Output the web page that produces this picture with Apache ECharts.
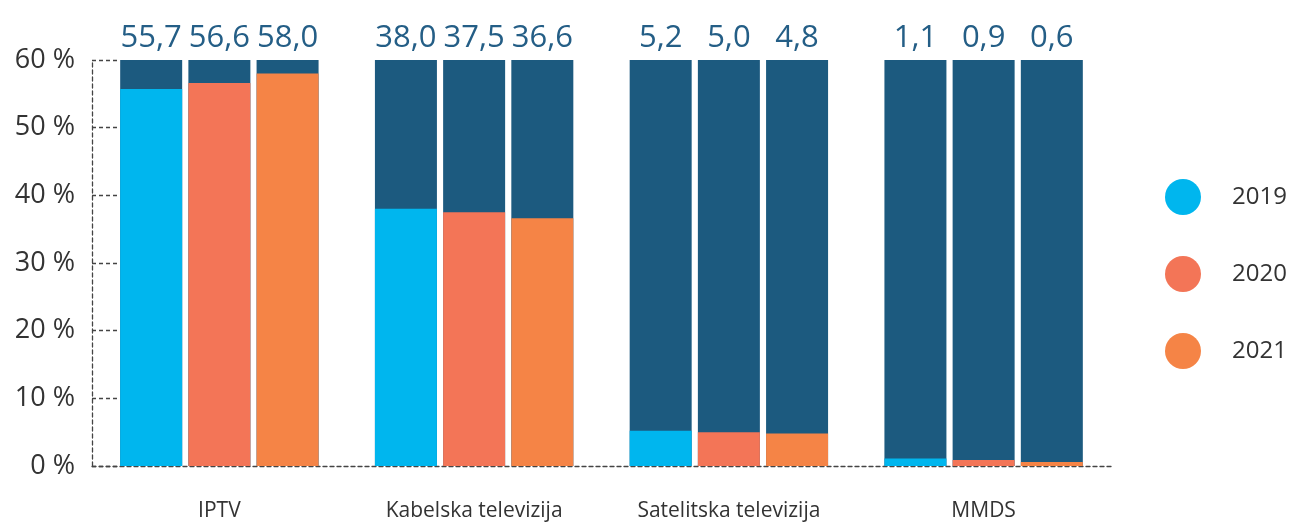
<!DOCTYPE html>
<html>
<head>
<meta charset="utf-8">
<script src="https://cdn.jsdelivr.net/npm/echarts@6/dist/echarts.min.js"></script>
<style>
  html, body { margin: 0; padding: 0; background: #fff; }
  #chart { width: 1298px; height: 522px; }
</style>
</head>
<body>
<div id="chart"></div>
<script>
const categories = ['IPTV', 'Kabelska televizija', 'Satelitska televizija', 'MMDS'];
const years = ['2019', '2020', '2021'];
const values2019 = [55.7, 38.0, 5.2, 1.1];
const values2020 = [56.6, 37.5, 5.0, 0.9];
const values2021 = [58.0, 36.6, 4.8, 0.6];
const yTicks = [0, 10, 20, 30, 40, 50, 60];

const yearValues = [values2019, values2020, values2021];
const colors = ['#00b6ee', '#f37557', '#f58446'];
const darkBlue = '#1c5a7f';
const axisMax = yTicks[yTicks.length - 1];
const fontFamily = '"Open Sans", "Noto Sans", sans-serif';

const fmt = function (v) {
  return v.toFixed(1).replace('.', ',');
};

const series = [];
years.forEach(function (year, i) {
  series.push({
    name: year,
    type: 'bar',
    stack: 's' + i,
    barWidth: 62,
    barGap: '10%',
    showBackground: true,
    backgroundStyle: { color: darkBlue },
    itemStyle: { color: colors[i] },
    data: yearValues[i],
  });
  // transparent filler up to the axis max, used only to place the value label
  series.push({
    name: year + '_top',
    type: 'bar',
    stack: 's' + i,
    barWidth: 62,
    barGap: '10%',
    itemStyle: { color: 'rgba(0,0,0,0)' },
    label: {
      show: true,
      position: 'top',
      distance: 6,
      color: '#245e86',
      fontSize: 31,
      fontFamily: fontFamily,
      formatter: function (p) {
        return fmt(yearValues[i][p.dataIndex]);
      },
    },
    emphasis: { disabled: true },
    data: yearValues[i].map(function (v) { return axisMax - v; }),
  });
});

const dashed = { color: '#444', type: [4, 3], width: 1.3 };

const chart = echarts.init(document.getElementById('chart'));
chart.setOption({
  animation: false,
  textStyle: { fontFamily: fontFamily },
  grid: { left: 92, right: 187, top: 60, bottom: 56 },
  legend: {
    orient: 'vertical',
    left: 1160,
    top: 174,
    data: years,
    icon: 'circle',
    itemWidth: 36,
    itemHeight: 36,
    itemGap: 41,
    textStyle: { fontSize: 24, color: '#333', padding: [0, 0, 0, 26] },
  },
  xAxis: {
    type: 'category',
    data: categories,
    axisLine: { lineStyle: dashed },
    axisTick: { inside: true, length: 10, lineStyle: dashed },
    axisLabel: { color: '#333', fontSize: 21, margin: 35 },
  },
  yAxis: {
    type: 'value',
    min: 0,
    max: axisMax,
    interval: 10,
    axisLine: { show: true, lineStyle: dashed },
    axisTick: { show: true, inside: true, length: 26, lineStyle: dashed },
    splitLine: { show: false },
    axisLabel: {
      color: '#333',
      fontSize: 27,
      margin: 17,
      formatter: function (v) { return v + ' %'; },
    },
  },
  series: series,
});
</script>
</body>
</html>
